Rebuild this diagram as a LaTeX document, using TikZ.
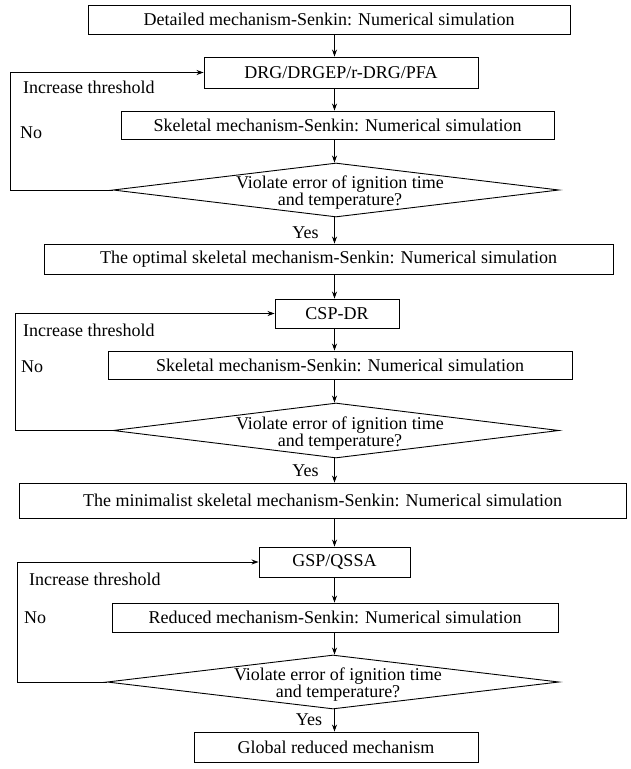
\documentclass[tikz,border=0pt]{standalone}
\usepackage{fontspec}
\setmainfont{Liberation Serif}
\usetikzlibrary{shapes.geometric,arrows.meta}
\begin{document}
\begin{tikzpicture}[x=1pt,y=-1pt,
  box/.style={draw, line width=0.9pt, inner sep=0pt, font=\fontsize{18}{20}\selectfont},
  dia/.style={draw, diamond, line width=0.9pt, inner sep=0pt},
  lbl/.style={font=\fontsize{18}{20}\selectfont, inner sep=0pt},
  qtxt/.style={font=\fontsize{18}{17}\selectfont, inner sep=0pt, align=center},
  arr/.style={line width=0.9pt, -{Stealth[length=7pt,width=5pt]}}]
\useasboundingbox (0,0) rectangle (631,769);
\coordinate (ax) at (334.5,0);
\coordinate (L1) at (10,0);
\coordinate (L2) at (15,0);
\coordinate (L3) at (17,0);

% section 1
\node[box, minimum width=482pt, minimum height=29pt] (b1) at (329,19.5) {Detailed mechanism-Senkin: Numerical simulation};
\node[box, minimum width=274pt, minimum height=31pt] (b2) at (341,72.5) {DRG/DRGEP/r-DRG/PFA};
\node[box, minimum width=433pt, minimum height=28pt] (b3) at (337.5,125) {Skeletal mechanism-Senkin: Numerical simulation};
\node[dia, minimum width=446pt, minimum height=54pt] (d1) at (336,190) {};
\node[qtxt] (q1) at (340,193) {Violate error of ignition time\\and temperature?};
\node[box, minimum width=569pt, minimum height=30pt] (b4) at (328.5,259) {The optimal skeletal mechanism-Senkin: Numerical simulation};

% section 2
\node[box, minimum width=124pt, minimum height=29pt] (b5) at (337,313.5) {CSP-DR};
\node[box, minimum width=464pt, minimum height=28pt] (b6) at (340,365) {Skeletal mechanism-Senkin: Numerical simulation};
\node[dia, minimum width=446pt, minimum height=55pt] (d2) at (336,430.5) {};
\node[qtxt] (q2) at (340,434) {Violate error of ignition time\\and temperature?};
\node[box, minimum width=607pt, minimum height=35pt] (b7) at (322.5,500.5) {The minimalist skeletal mechanism-Senkin: Numerical simulation};

% section 3
\node[box, minimum width=151pt, minimum height=30pt] (b8) at (334.5,562) {GSP/QSSA};
\node[box, minimum width=446pt, minimum height=29pt] (b9) at (335,617.5) {Reduced mechanism-Senkin: Numerical simulation};
\node[dia, minimum width=452pt, minimum height=54pt] (d3) at (333,682) {};
\node[qtxt] (q3) at (338,685) {Violate error of ignition time\\and temperature?};
\node[box, minimum width=284pt, minimum height=30pt] (b10) at (336,747) {Global reduced mechanism};

% labels
\node[lbl, anchor=west] (it1) at (23,87) {Increase threshold};
\node[lbl, anchor=west] (no1) at (20,133) {No};
\node[lbl] (y1) at (305.5,233) {Yes};
\node[lbl, anchor=west] (it2) at (23,330) {Increase threshold};
\node[lbl, anchor=west] (no2) at (21,367) {No};
\node[lbl] (y2) at (305.5,471) {Yes};
\node[lbl, anchor=west] (it3) at (29,579) {Increase threshold};
\node[lbl, anchor=west] (no3) at (24,618) {No};
\node[lbl] (y3) at (309,720) {Yes};

% main flow
\draw[arr] (b1.south -| ax) -- (b2.north -| ax);
\draw[arr] (b2.south -| ax) -- (b3.north -| ax);
\draw[arr] (b3.south -| ax) -- (d1.north -| ax);
\draw[arr] (d1.south -| ax) -- (b4.north -| ax);
\draw[arr] (b4.south -| ax) -- (b5.north -| ax);
\draw[arr] (b5.south -| ax) -- (b6.north -| ax);
\draw[arr] (b6.south -| ax) -- (d2.north -| ax);
\draw[arr] (d2.south -| ax) -- (b7.north -| ax);
\draw[arr] (b7.south -| ax) -- (b8.north -| ax);
\draw[arr] (b8.south -| ax) -- (b9.north -| ax);
\draw[arr] (b9.south -| ax) -- (d3.north -| ax);
\draw[arr] (d3.south -| ax) -- (b10.north -| ax);

% loops
\draw[arr] (d1.west) -- (d1.west -| L1) |- (b2.west);
\draw[arr] (d2.west) -- (d2.west -| L2) |- (b5.west);
\draw[arr] (d3.west) -- (d3.west -| L3) |- (b8.west);
\end{tikzpicture}
\end{document}
